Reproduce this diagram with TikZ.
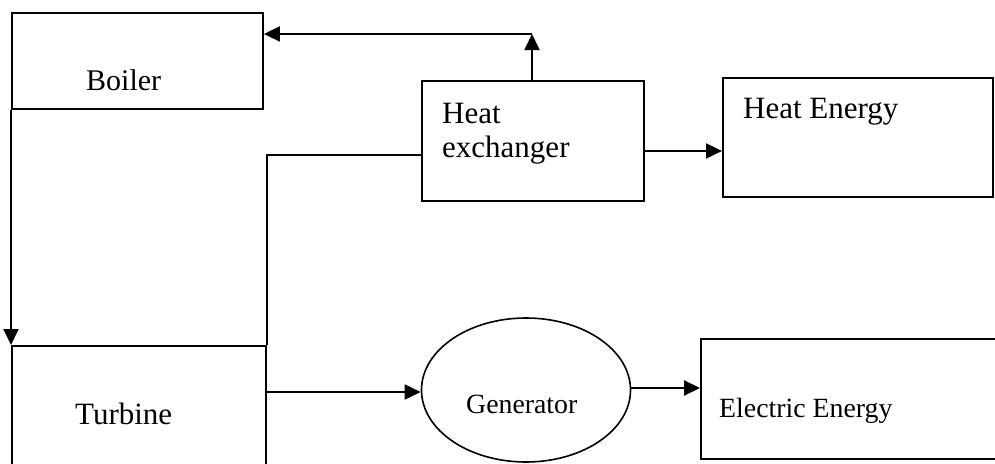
\documentclass[tikz,border=0pt]{standalone}
\usepackage{fontspec}
\setmainfont{Liberation Serif}
\usetikzlibrary{arrows.meta,shapes.geometric}
\begin{document}
\begin{tikzpicture}[x=1pt,y=-1pt,
  box/.style={draw,line width=1.9pt,rectangle,inner sep=0pt,anchor=north west},
  lbl/.style={inner sep=0pt,anchor=base west,font=\fontsize{31}{34}\selectfont},
  lblsmall/.style={inner sep=0pt,anchor=base west,font=\fontsize{27.8}{32}\selectfont},
  conn/.style={line width=1.9pt},
  arr/.style={line width=1.9pt,-{Triangle[length=16pt,width=15pt]}}]
\useasboundingbox (0,0) rectangle (995,463);
\clip (0,0) rectangle (995,463);
% boxes
\node[box,minimum width=251pt,minimum height=96pt] (boiler) at (11,12) {};
\node[box,minimum width=222pt,minimum height=120pt] (hx) at (421,80) {};
\node[box,minimum width=270pt,minimum height=119pt] (he) at (722,77) {};
\node[box,minimum width=254pt,minimum height=160pt] (turbine) at (11,345) {};
\node[draw,line width=1.6pt,ellipse,inner sep=0pt,minimum width=209pt,minimum height=144pt] (gen) at (526,390) {};
\node[box,minimum width=320pt,minimum height=120pt] (ee) at (700,338) {};
% texts
\node[lbl,font=\fontsize{30}{34}\selectfont] (boilerT) at (86,90) {Boiler};
\node[lbl] (hxT1) at (442,123) {Heat};
\node[lbl] (hxT2) at (442,157) {exchanger};
\node[lbl] (heT) at (743,118) {Heat Energy};
\node[lbl] (turbT) at (75,424) {Turbine};
\node[lblsmall] (genT) at (466,413) {Generator};
\node[lblsmall] (eeT) at (719,417) {Electric Energy};
% connectors
\coordinate (ret) at (532,34);
\draw[arr] (hx.north -| ret) -- (ret);
\draw[arr] (ret) -- (ret -| boiler.east);
\draw[arr] (boiler.south west) -- (turbine.north west);
\draw[conn] ([yshift=-14pt]hx.west) -| (turbine.north east);
\draw[arr] ([yshift=-10pt]hx.east) -- ([yshift=-10pt]hx.east -| he.west);
\draw[arr] ([yshift=-2pt]gen.west -| turbine.east) -- ([yshift=-2pt]gen.west);
\draw[arr] ([yshift=2pt]gen.east) -- ([yshift=2pt]gen.east -| ee.west);
\end{tikzpicture}
\end{document}
